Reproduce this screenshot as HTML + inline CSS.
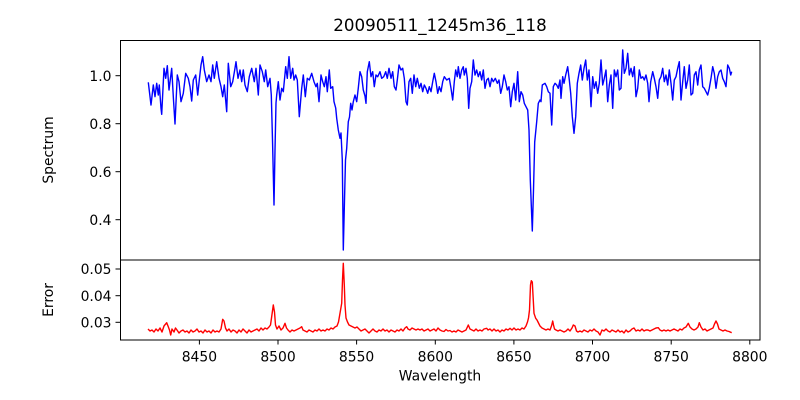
<!DOCTYPE html>
<html><head><meta charset="utf-8"><style>
html,body{margin:0;padding:0;background:#fff;}
svg{display:block;}
text{font-family:"DejaVu Sans","Liberation Sans",sans-serif;fill:#000;}
</style></head><body>
<svg width="800" height="400" viewBox="0 0 800 400" xmlns="http://www.w3.org/2000/svg">
<rect width="800" height="400" fill="#fff"/>
<text x="440" y="31" font-size="16.7" text-anchor="middle">20090511_1245m36_118</text>

<!-- spectrum -->
<polyline fill="none" stroke="#0000ff" stroke-width="1.4" stroke-linejoin="round" points="148.3,82.3 151,105 153.3,85 155,96.7 156.7,83.3 158.3,95 159.3,85 161,108.3 161.7,114.3 164,68.3 165.7,78.3 167.3,65.7 169,90 171.7,68.3 173.5,100 175,124 177.3,75 179,81.7 181,101.7 183.3,93.3 185.7,73.3 188.3,78.3 190,86.7 191.7,101 193.3,80 195.7,75 197.7,95 199.3,80 201,65 202.7,56.7 204.3,70 206.7,81.7 209,75 211,81.7 212.7,65 214.3,78.3 216.7,61.7 219,78.3 221,86.7 222.7,96.7 224.3,85 226.7,111.7 228.3,63.3 230.7,86.7 232.7,81.7 234.7,70 236,61.7 238,78.3 240,70 241.7,81.7 243.3,70 245,85 247.3,91.7 249.3,76.7 251.7,68.3 254.3,81.7 256,68.3 258.3,95 260,65 262.3,71.7 264.3,81.7 265.7,70 267.7,86.7 270,78.3 271.3,95 272.5,140 274,205 275,150 276,103 276.7,95 278.3,81.7 280,100 281.7,88.3 283.3,91.7 285.7,66.7 287.3,78.3 289,56.7 290.7,78.3 292.7,68.3 294,80 295.7,75 297.3,80 299.3,116.7 301.7,88.3 303.3,75 305.3,96.7 307.3,78.3 309.3,80 311.7,73.3 314,81.7 316,86.7 317.3,83.3 319,101.7 321,75 322.7,81.7 324.3,86.7 326,76.7 327.3,91.7 329.3,70 330.7,88.3 332.7,86.7 334,101.7 335.7,108 336.7,118.3 338.3,130 340,138.3 341,133 342.3,160 343.3,250 344.5,200 345.5,160 346.7,148.3 348.3,121.7 349.5,117 350.7,103.3 352,110 353.3,101.7 355,95 356.7,101.7 358.3,88 360,71.7 361.7,76.7 363.3,90 365,96 366,103.3 367.3,71.7 369.3,61.7 371,76.7 372.7,71.7 374.3,86.7 376,75 377.7,76.7 380,71.7 381.7,78.3 383.7,76.7 385.7,71.7 387.3,78.3 389,68.3 391,78.3 392.7,71.7 394.3,86.7 396,90 397.3,80 399,65 401,70 402.7,68.3 404.3,78.3 406,101.7 407.3,105 409,81.7 410.7,78.3 412.3,93.3 414,75 415.7,86.7 417.3,78.3 419.3,88.3 421,83.3 422.7,91.7 424.3,85 426,88.3 427.7,93.3 429.3,86.7 431,91.7 432.7,81.7 434.3,73.3 436,81.7 437.7,93.3 439.3,86.7 441,91.7 442.7,81.7 444.3,76.7 446.7,80 449.3,78.3 451,88.3 452.7,100 454.3,81.7 455.7,70 457.3,76.7 458.3,66.7 460,78.3 461.7,70 463.3,66.7 464.3,75 466,68.3 467.3,78.3 468.7,108.3 470,88.3 471.7,81.7 473.3,60 475,75 476.7,70 478.3,76.7 480,71.7 481.7,80 483.3,70 485,88.3 486.7,80 488.3,78.3 490,86.7 491.7,78.3 493.3,81.7 495.3,78.3 497.3,83.3 499,80 500.7,93.3 502.3,86.7 504,75 505.7,81.7 507.3,90 509,86.7 510.7,106.7 512.3,91.7 514,83.3 515.7,100 517.7,71.7 519.3,101.7 521,91.7 522.7,95 524.3,103.3 526,106.7 527.7,110 529,130 530.3,180 532.3,231 533.5,190 534.7,142 536.7,121.7 538.3,103.3 540,100 541,101.7 542.3,85 545,83.3 546.7,86.7 548.3,91.7 550,93.3 551.7,125 553.3,86.7 555,83.3 556.7,85 558.3,88.3 560,80 561,98.3 562.7,76.7 564,83.3 565.7,75 567.7,66.7 569.3,80 570.7,93.3 572.3,116.7 574,133.3 575.7,116.7 577.3,83.3 579,73.3 580.7,65 582.3,80 584,68.3 585.7,60 587.3,80 589,70 591,106.7 592.7,76.7 594.3,88.3 596,81.7 597.7,93.3 599.3,83.3 601,60 602.7,85 604.3,78.3 606,70 607.7,101.7 609.3,85 611,75 612.7,108.3 614.3,70 616,76.7 617.7,70 619.3,90 621,88.3 622.7,50 624.3,73.3 626,68.3 627.7,53.3 629.3,75 631,68.3 632.7,76.7 634.3,66.7 636,96.7 637.7,88.3 639.3,70 641,78.3 642.7,76.7 644.3,80 646,75 647.7,83.3 649,101.7 650.7,81.7 652.7,71.7 654.3,78.3 656,86.7 657.7,98.3 659.3,80 661,76.7 662.7,68.3 664.3,81.7 666,75 667.7,85 669.3,70 671,83.3 672.7,100 674.3,80 676,76.7 677.7,68.3 679.3,61.7 681,100 682.7,81.7 684.3,66.7 686,88.3 687.7,80 689.3,65 691,95 692.7,93.3 694.3,75 696,71.7 697.7,85 699.3,70 701,65 702.7,86.7 704.3,88.3 706,91.7 707.7,95 709.3,88.3 711,78.3 712.7,66.7 714.3,73.3 716,88.3 717.7,76.7 719.3,71.7 721,70 722.7,78.3 724.3,81.7 726,86.7 727.7,65 729.3,68.3 730.7,75 731.7,71.7"/>

<!-- error -->
<polyline fill="none" stroke="#ff0000" stroke-width="1.4" stroke-linejoin="round" points="148,329 150,331 152,330 154,332 156,329 158,331 160,328 162,332 164,326 166.7,322.7 168,326 169.5,330 170.7,335 172,329 174,332 175.5,328 177,330 179,333 181,331 183,330 185,332 187,331 189,333 191,330 193,332 195,331 197,329 199,332 201,331 203,333 205,330 207,332 209,331 211,333 213,330 215,332 217,331 219,332 221,329 222.7,319.3 224,321 225.5,328 227,331 229,329 231,332 233,330 235,331 237,333 239,330 241,332 243,329 245,331 247,333 249,330 251,332 253,331 255,330 257,329 259,331 261,328 263,330 265,328 267,329 269,327 270.5,325 271.5,318 273.3,305 274.5,312 275.5,325 277,329 279,326 281,330 283,328 285,323.3 286.5,328 288,330 290,332 292,330 294,331 296,330 298,329 300,328 301.7,326.7 303,330 305,331 307,332 309,330 311,331 313,332 315,330 317,331 319,329 321,331 323,330 325,331 327,329 329,330 331,328 333,329 335,327 337,326 338.5,322 340,313.3 341.7,303.3 342.5,280 343.3,263.3 344.3,285 345,305 346,318 347.5,322 349,325 351,326 353,327 355,328 357,327 359,329 361,331 363,330 365,329 367,331 369,333 371,331 373,329 375,331 377,332 379,330 381,331 383,329 385,331 387,330 389,332 391,330 393,331 395,332 397,330 399,331 401,329 403,331 405,328 406.7,326.7 408,329 410,330 412,328 414,329 416,330 418,329 420,330 422,329 424,331 426,330 428,329 430,331 432,330 434,329 436,331 438,328 440,330 442,331 444,331.5 446,329.5 448,331 450,330.5 452,332 454,331 456,332 458,330 460,331 462,332 464,331 466,330 468.3,325 470,329 472,330 474,331 476,329 478,331 480,330 482,331 484,329 486.7,328.3 488,330 490,329 492,331 494,329 496,331 498,330 500,332 502,330 504,331 506,329 508,330 510,328.3 512,330 514,328 516,330 518,329 520,330 522,328 524,329 526,326 527.5,322 528.5,318 529.5,310 530.5,285 531.3,280.7 532.3,282 533,295 534,313.3 535.7,318.3 537,320 538.5,323 540,326 542,328 544,329 546,330 548,329 550,330 551.5,326 552.7,321 553.5,325 554.5,329 556,330 558,331 560,330 562,331 564,332 566,331 568,329 570,331 572,328 573.3,325 575,326 576.5,331 578,332 580,331 582,332 584,330 586,331 588,332 590,330 592,331 594,329 596,331 598,332 600,335 602,330 604,331 606,329 608,331 610,332 612,330 614,331 616,332 618,330 620,332 622,331 624,333 626,330 628,332 630,331 632,329 634,328 636,331 638,330 640,331 642,329 644,331 646,330 648,330 650,331 652,330 654,329 656,328 658.3,327.7 660,330 662,331 664,330 666,331 668,330 670,331 672,330 674,329 676,330 678,331 680,329 682,330 684,328 686,327 688.3,323.3 690,327 692,329 694,330 696,329 698,327 699.3,322.7 701,327 703,330 705,329 707,331 709,330 711,329 713,328 714.5,324 716,321 717.5,324 719,329 721,330 723,331 725,330 727,331 729,331.5 731.7,332.7"/>

<!-- axes frames -->
<rect x="120.5" y="40.5" width="639.5" height="219.5" fill="none" stroke="#000" stroke-width="1"/>
<rect x="120.5" y="260" width="639.5" height="80" fill="none" stroke="#000" stroke-width="1"/>

<!-- top y ticks -->
<g stroke="#000" stroke-width="1">
<line x1="115.5" y1="75.7" x2="120" y2="75.7"/>
<line x1="115.5" y1="123.7" x2="120" y2="123.7"/>
<line x1="115.5" y1="171.7" x2="120" y2="171.7"/>
<line x1="115.5" y1="219.7" x2="120" y2="219.7"/>
<line x1="115.5" y1="269" x2="120" y2="269"/>
<line x1="115.5" y1="295.7" x2="120" y2="295.7"/>
<line x1="115.5" y1="322.3" x2="120" y2="322.3"/>
<line x1="199.4" y1="340" x2="199.4" y2="344.5"/>
<line x1="278" y1="340" x2="278" y2="344.5"/>
<line x1="356.6" y1="340" x2="356.6" y2="344.5"/>
<line x1="435.3" y1="340" x2="435.3" y2="344.5"/>
<line x1="513.9" y1="340" x2="513.9" y2="344.5"/>
<line x1="592.5" y1="340" x2="592.5" y2="344.5"/>
<line x1="671.2" y1="340" x2="671.2" y2="344.5"/>
<line x1="749.8" y1="340" x2="749.8" y2="344.5"/>
</g>
<g font-size="13.9" text-anchor="end">
<text x="111.5" y="80.8">1.0</text>
<text x="111.5" y="128.8">0.8</text>
<text x="111.5" y="176.8">0.6</text>
<text x="111.5" y="224.8">0.4</text>
<text x="111.5" y="274.1">0.05</text>
<text x="111.5" y="300.8">0.04</text>
<text x="111.5" y="327.4">0.03</text>
</g>
<g font-size="13.9" text-anchor="middle">
<text x="199.4" y="361.5">8450</text>
<text x="278" y="361.5">8500</text>
<text x="356.6" y="361.5">8550</text>
<text x="435.3" y="361.5">8600</text>
<text x="513.9" y="361.5">8650</text>
<text x="592.5" y="361.5">8700</text>
<text x="671.2" y="361.5">8750</text>
<text x="749.8" y="361.5">8800</text>
<text x="440" y="380.5">Wavelength</text>
<text transform="translate(53,150) rotate(-90)">Spectrum</text>
<text transform="translate(53,300) rotate(-90)">Error</text>
</g>
</svg>
</body></html>
